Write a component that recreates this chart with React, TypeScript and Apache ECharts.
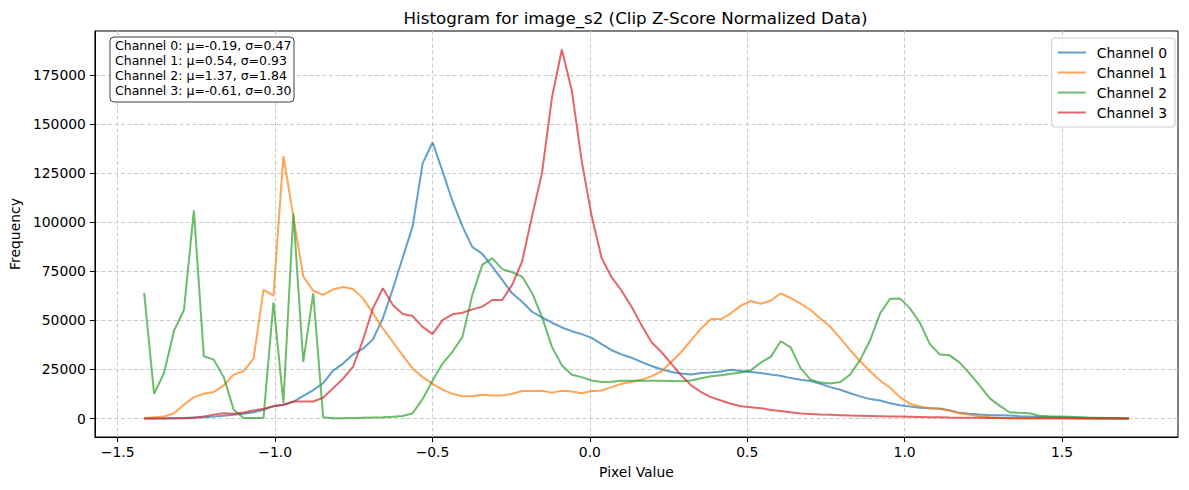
import { useEffect, useRef } from "react";
import * as echarts from "echarts";

const TITLE = "Histogram for image_s2 (Clip Z-Score Normalized Data)";
const X_NAME = "Pixel Value";
const Y_NAME = "Frequency";

const BIN_FIRST = -1.416;
const BIN_LAST = 1.712;
const BIN_COUNT = 100;

const CHANNEL_NAMES = ["Channel 0", "Channel 1", "Channel 2", "Channel 3"];
const CHANNEL_COLORS = ["#1f77b4", "#ff7f0e", "#2ca02c", "#d62728"];
const CHANNEL_MEANS = [-0.19, 0.54, 1.37, -0.61];
const CHANNEL_STDS = [0.47, 0.93, 1.84, 0.3];

const CHANNEL_0 = [
  0, 0, 100, 200, 300, 500, 700, 1000, 1400, 1900,
  2500, 3200, 4500, 6300, 7000, 8500, 11500, 14500, 18000, 24400,
  28000, 32700, 35600, 40300, 51000, 66000, 82000, 98000, 130000, 140600,
  126000, 110700, 97900, 87300, 83900, 77400, 70600, 63800, 59500, 54400,
  51500, 48800, 46400, 44500, 43000, 41100, 37900, 34800, 32700, 31000,
  28800, 26800, 25100, 23700, 22900, 22400, 23200, 23400, 24000, 24900,
  24200, 23700, 23200, 22400, 21800, 20600, 19800, 19100, 17700, 16000,
  14700, 12900, 11300, 9900, 9200, 7800, 6800, 6100, 5500, 5300,
  5100, 4100, 2900, 2400, 2000, 1700, 1700, 1500, 1200, 1000,
  900, 800, 700, 500, 400, 300, 200, 100, 100, 50,
];

const CHANNEL_1 = [
  300, 700, 1000, 2700, 7000, 10900, 12600, 13500, 16900, 22400,
  24200, 30500, 65500, 62600, 133700, 103000, 72300, 65100, 63000, 65800,
  67000, 66000, 61200, 53700, 45900, 39000, 32200, 25400, 21100, 17700,
  14700, 12600, 11300, 11300, 12100, 11800, 11800, 12600, 14000, 14000,
  14200, 13200, 14200, 13800, 12900, 14000, 14300, 16000, 17700, 18600,
  19800, 21500, 24000, 28800, 33900, 39900, 45900, 50700, 50700, 53600,
  57500, 59900, 58500, 60000, 63800, 61400, 58500, 55300, 51000, 46700,
  40800, 34800, 29200, 24000, 19400, 15700, 10900, 7500, 6100, 5300,
  4800, 4100, 2700, 1900, 1200, 700, 400, 300, 200, 150,
  100, 100, 100, 50, 50, 50, 50, 0, 0, 0,
];

const CHANNEL_2 = [
  64000, 12600, 23200, 44700, 55300, 106000, 31700, 30000, 21100, 4500,
  300, 300, 300, 59200, 8000, 104400, 28800, 63800, 700, 200,
  200, 300, 400, 500, 600, 900, 1300, 2700, 10000, 19400,
  28000, 34000, 41600, 63000, 78300, 81700, 76100, 74500, 72300, 64000,
  51800, 36500, 27100, 22300, 21100, 19400, 18600, 18700, 19300, 19300,
  19200, 19200, 19200, 19100, 19000, 19400, 20500, 21500, 22000, 22800,
  23500, 24600, 28500, 31400, 39400, 36300, 25700, 19800, 18300, 17900,
  18600, 22500, 30000, 39900, 53600, 61000, 61200, 56100, 48800, 37900,
  32600, 32200, 28500, 22900, 16900, 10400, 6600, 3200, 2900, 2700,
  1400, 1200, 1100, 900, 700, 500, 400, 300, 200, 100,
];

const CHANNEL_3 = [
  0, 0, 50, 100, 200, 400, 1000, 2000, 2700, 2400,
  3100, 4100, 5000, 6300, 7000, 8700, 8700, 8700, 10600, 15500,
  20300, 26300, 40000, 56100, 66400, 57800, 53200, 52200, 46700, 43000,
  50100, 53100, 53900, 55600, 57000, 60400, 60400, 68100, 80000, 103000,
  125000, 163500, 188000, 167000, 131000, 103000, 81700, 72000, 65100, 57000,
  47600, 39000, 33900, 28000, 22000, 16900, 13500, 10900, 9200, 7500,
  6300, 5800, 5300, 4400, 3900, 3200, 2600, 2300, 2000, 1900,
  1700, 1500, 1400, 1300, 1200, 1100, 1000, 900, 800, 700,
  600, 500, 450, 400, 350, 300, 250, 200, 200, 150,
  150, 100, 100, 100, 50, 50, 50, 50, 50, 50,
];

const CHANNEL_VALUES = [CHANNEL_0, CHANNEL_1, CHANNEL_2, CHANNEL_3];

const X_TICKS = [-1.5, -1.0, -0.5, 0.0, 0.5, 1.0, 1.5];
const Y_TICKS = [0, 25000, 50000, 75000, 100000, 125000, 150000, 175000];

const FONT = "DejaVu Sans";

export default function App() {
  const ref = useRef<HTMLDivElement>(null);

  useEffect(() => {
    if (!ref.current) return;
    const chart = echarts.init(ref.current, undefined, { renderer: "svg" });

    const step = (BIN_LAST - BIN_FIRST) / (BIN_COUNT - 1);
    const centers = Array.from({ length: BIN_COUNT }, (_, i) => BIN_FIRST + i * step);

    const xSpan = BIN_LAST - BIN_FIRST;
    const xMin = BIN_FIRST - 0.05 * xSpan;
    const xMax = BIN_LAST + 0.05 * xSpan;
    let yPeak = 0;
    CHANNEL_VALUES.forEach((arr) => arr.forEach((v) => { if (v > yPeak) yPeak = v; }));
    const yMin = -0.05 * yPeak;
    const yMax = yPeak * 1.05;

    const gridLeft = 93;
    const gridTop = 31;
    const gridRight = 1178;
    const gridBottom = 437;

    const statLines = CHANNEL_NAMES.map(
      (n, i) => `${n}: μ=${CHANNEL_MEANS[i].toFixed(2)}, σ=${CHANNEL_STDS[i].toFixed(2)}`
    );

    const option: any = {
      animation: false,
      textStyle: { fontFamily: FONT },
      title: {
        text: TITLE,
        left: (gridLeft + gridRight) / 2,
        top: 9,
        textAlign: "center",
        padding: 0,
        textStyle: { fontSize: 16.7, fontWeight: "normal", color: "#000", fontFamily: FONT },
      },
      grid: {
        left: gridLeft,
        top: gridTop,
        width: gridRight - gridLeft,
        height: gridBottom - gridTop,
        show: true,
        borderColor: "#000",
        borderWidth: 1,
        backgroundColor: "transparent",
        containLabel: false,
      },
      legend: {
        orient: "vertical",
        right: 14,
        top: 38,
        itemWidth: 28,
        itemHeight: 14,
        itemGap: 6,
        padding: [7.5, 8, 7.5, 5],
        backgroundColor: "rgba(255,255,255,0.8)",
        borderColor: "#cccccc",
        borderWidth: 1,
        borderRadius: 3,
        data: CHANNEL_NAMES,
        itemStyle: { opacity: 0 },
        lineStyle: { width: 2, opacity: 0.7 },
        textStyle: { fontSize: 13.9, color: "#000", fontFamily: FONT, padding: [0, 0, 0, 6] },
      },
      xAxis: {
        type: "value",
        min: xMin,
        max: xMax,
        name: X_NAME,
        nameLocation: "middle",
        nameGap: 28,
        nameTextStyle: { fontSize: 13.9, color: "#000", fontFamily: FONT },
        axisLine: { show: true, onZero: false, lineStyle: { color: "#000", width: 1 } },
        axisTick: { show: true, length: 5, lineStyle: { color: "#000" }, customValues: X_TICKS },
        axisLabel: {
          customValues: X_TICKS,
          margin: 8,
          fontSize: 13.9,
          color: "#000",
          fontFamily: FONT,
          formatter: (v: number) => (v < 0 ? "\u2212" : "") + Math.abs(v).toFixed(1),
        },
        splitLine: { show: true, lineStyle: { color: "#cccccc", width: 1, type: [4, 2.5] } },
      },
      yAxis: {
        type: "value",
        min: yMin,
        max: yMax,
        name: Y_NAME,
        nameLocation: "middle",
        nameGap: 69,
        nameTextStyle: { fontSize: 13.9, color: "#000", fontFamily: FONT },
        axisLine: { show: true, onZero: false, lineStyle: { color: "#000", width: 1 } },
        axisTick: { show: true, length: 5, lineStyle: { color: "#000" }, customValues: Y_TICKS },
        axisLabel: {
          customValues: Y_TICKS,
          margin: 9,
          fontSize: 13.9,
          color: "#000",
          fontFamily: FONT,
          formatter: (v: number) => String(Math.round(v)),
        },
        splitLine: { show: true, lineStyle: { color: "#cccccc", width: 1, type: [4, 2.5] } },
      },
      series: CHANNEL_NAMES.map((name, ci) => ({
        name,
        type: "line",
        symbol: "none",
        color: CHANNEL_COLORS[ci],
        lineStyle: { width: 2, opacity: 0.7, color: CHANNEL_COLORS[ci] },
        data: centers.map((x, i) => [x, CHANNEL_VALUES[ci][i]]),
        z: 2 + ci,
      })),
      graphic: [
        {
          type: "rect",
          z: 100,
          zlevel: 0,
          shape: { x: 110, y: 37, width: 184, height: 65, r: 4 },
          style: { fill: "#ffffff", stroke: "rgba(0,0,0,0.75)", lineWidth: 1 },
        },
        ...statLines.map((t, i) => ({
          type: "text",
          z: 101,
          zlevel: 0,
          x: 115,
          y: 45.7 + i * 15,
          style: {
            text: t,
            fontSize: 12.5,
            fontFamily: FONT,
            fill: "#000",
            align: "left",
            verticalAlign: "middle",
          },
        })),
      ],
    };

    chart.setOption(option);
    return () => chart.dispose();
  }, []);

  return (
    <div
      ref={ref}
      style={{ position: "fixed", left: 0, top: 0, width: 1189, height: 490, background: "#fff" }}
    />
  );
}
